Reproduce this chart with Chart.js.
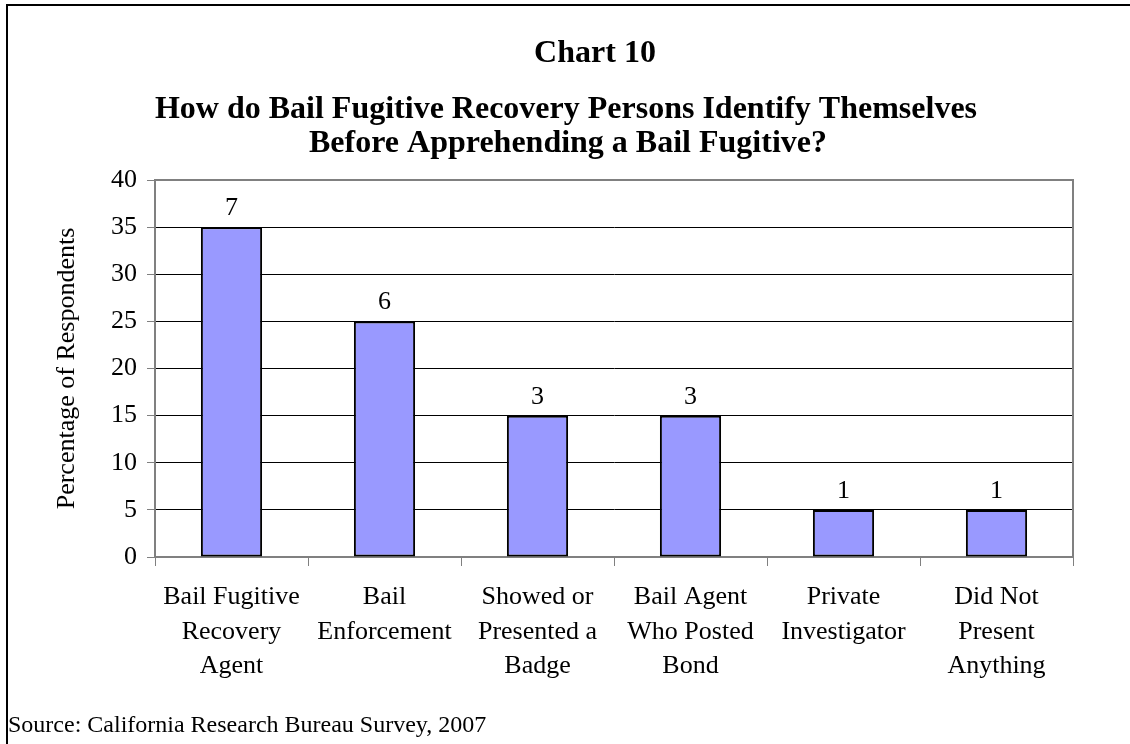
<!DOCTYPE html>
<html>
<head>
<meta charset="utf-8">
<title>Chart 10</title>
<script src="https://cdn.jsdelivr.net/npm/chart.js@4/dist/chart.umd.min.js"></script>
<style>
  html, body { margin: 0; padding: 0; background: #fff; }
  #wrap { position: relative; width: 1130px; height: 744px; overflow: hidden; }
  #frame { position: absolute; left: 6px; top: 4px; right: 0; bottom: 0;
           border-top: 2px solid #000; border-left: 2px solid #000; }
  canvas { position: absolute; left: 0; top: 0; }
</style>
</head>
<body>
<div id="wrap">
  <div id="frame"></div>
  <canvas id="chart10" width="1130" height="744"></canvas>
</div>
<script>
const SERIF = '"Liberation Serif", "Times New Roman", Times, serif';

const categories = [
  ["Bail Fugitive", "Recovery", "Agent"],
  ["Bail", "Enforcement"],
  ["Showed or", "Presented a", "Badge"],
  ["Bail Agent", "Who Posted", "Bond"],
  ["Private", "Investigator"],
  ["Did Not", "Present", "Anything"],
];
const percentages = [35, 25, 15, 15, 5, 5];
const respondentCounts = [7, 6, 3, 3, 1, 1];

const chartNumber = "Chart 10";
const titleLines = [
  "How do Bail Fugitive Recovery Persons Identify Themselves",
  "Before Apprehending a Bail Fugitive?",
];
const yAxisTitle = "Percentage of Respondents";
const sourceNote = "Source: California Research Bureau Survey, 2007";

// headings above the plot and the source line at the bottom
const headerText = {
  id: "headerText",
  afterDraw(chart) {
    const ctx = chart.ctx;
    ctx.save();
    ctx.fillStyle = "#000";
    ctx.textBaseline = "alphabetic";
    ctx.textAlign = "center";
    ctx.font = "bold 32px " + SERIF;
    ctx.fillText(chartNumber, 595, 62);
    ctx.fillText(titleLines[0], 566, 118);
    ctx.fillText(titleLines[1], 568, 152);
    ctx.textAlign = "left";
    ctx.font = "24px " + SERIF;
    ctx.fillText(sourceNote, 8, 732);
    ctx.restore();
  },
};

// gray top/right edge of the plot area
const plotFrame = {
  id: "plotFrame",
  beforeDatasetsDraw(chart) {
    const { ctx, chartArea: a } = chart;
    ctx.save();
    ctx.strokeStyle = "#808080";
    ctx.lineWidth = 2;
    ctx.beginPath();
    ctx.moveTo(a.left, a.top);
    ctx.lineTo(a.right, a.top);
    ctx.lineTo(a.right, a.bottom);
    ctx.stroke();
    ctx.restore();
  },
};

// respondent counts written above each bar
const countLabels = {
  id: "countLabels",
  afterDatasetsDraw(chart) {
    const ctx = chart.ctx;
    const meta = chart.getDatasetMeta(0);
    ctx.save();
    ctx.fillStyle = "#000";
    ctx.font = "26px " + SERIF;
    ctx.textAlign = "center";
    ctx.textBaseline = "alphabetic";
    meta.data.forEach((bar, i) => {
      ctx.fillText(String(respondentCounts[i]), bar.x, bar.y - 12);
    });
    ctx.restore();
  },
};

new Chart(document.getElementById("chart10"), {
  type: "bar",
  data: {
    labels: categories,
    datasets: [
      {
        data: percentages,
        backgroundColor: "#9999ff",
        borderColor: "#000",
        borderWidth: 2,
        borderSkipped: false,
        categoryPercentage: 1,
        barPercentage: 0.4,
      },
    ],
  },
  options: {
    responsive: false,
    devicePixelRatio: 1,
    animation: false,
    layout: { padding: { left: 40, top: 180, right: 57, bottom: 0 } },
    plugins: {
      legend: { display: false },
      tooltip: { enabled: false },
    },
    scales: {
      x: {
        offset: true,
        grid: {
          offset: true,
          drawOnChartArea: false,
          tickLength: 9,
          tickColor: "#808080",
        },
        border: { color: "#808080", width: 2 },
        ticks: {
          color: "#000",
          font: { family: SERIF, size: 26, lineHeight: 1.33 },
          padding: 14,
          maxRotation: 0,
          autoSkip: false,
        },
        afterFit(scale) { scale.height = 187; },
      },
      y: {
        min: 0,
        max: 40,
        ticks: {
          stepSize: 5,
          color: "#000",
          font: { family: SERIF, size: 26 },
          padding: 10,
        },
        grid: {
          color: (c) => (c.tick && (c.tick.value === 0 || c.tick.value === 40) ? "rgba(0,0,0,0)" : "#000"),
          lineWidth: 1,
          tickLength: 8,
          tickColor: "#808080",
        },
        border: { color: "#808080", width: 2 },
        title: {
          display: true,
          text: yAxisTitle,
          color: "#000",
          font: { family: SERIF, size: 26 },
          padding: { top: 12, bottom: 0 },
        },
        afterFit(scale) { scale.width = 115; },
      },
    },
  },
  plugins: [plotFrame, countLabels, headerText],
});
</script>
</body>
</html>
